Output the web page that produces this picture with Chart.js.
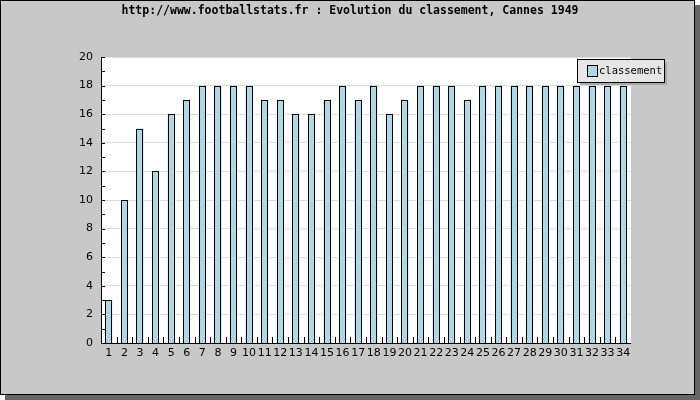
<!DOCTYPE html>
<html>
<head>
<meta charset="utf-8">
<script src="https://cdn.jsdelivr.net/npm/chart.js@4/dist/chart.umd.min.js"></script>
<style>
html,body{margin:0;padding:0;background:#fff;}
#wrap{width:700px;height:400px;position:relative;}
</style>
</head>
<body>
<div id="wrap"><canvas id="c" width="700" height="400"></canvas></div>
<script>
const titleText = "http://www.footballstats.fr : Evolution du classement, Cannes 1949";
const seriesName = "classement";
const categories = ["1","2","3","4","5","6","7","8","9","10","11","12","13","14","15","16","17","18","19","20","21","22","23","24","25","26","27","28","29","30","31","32","33","34"];
const classement = [3,10,15,12,16,17,18,18,18,18,17,17,16,16,17,18,17,18,16,17,18,18,18,17,18,18,18,18,18,18,18,18,18,18];
const yTicks = [0,2,4,6,8,10,12,14,16,18,20];

const framePlugin = {
  id: 'frame',
  beforeDraw(chart) {
    const ctx = chart.ctx;
    ctx.save();
    ctx.fillStyle = '#666666';
    ctx.fillRect(695, 5, 5, 395);
    ctx.fillRect(5, 395, 695, 5);
    ctx.fillStyle = '#c8c8c8';
    ctx.fillRect(0, 0, 695, 395);
    ctx.strokeStyle = '#000';
    ctx.lineWidth = 1;
    ctx.strokeRect(0.5, 0.5, 694, 394);
    const a = chart.chartArea;
    ctx.fillStyle = '#ffffff';
    ctx.fillRect(a.left, a.top, a.right - a.left, a.bottom - a.top);
    ctx.fillStyle = '#000';
    ctx.font = 'bold 11.5px "DejaVu Sans Mono"';
    ctx.textAlign = 'center';
    ctx.textBaseline = 'middle';
    ctx.fillText(titleText, 350, 11);
    ctx.restore();
  },
  afterDatasetsDraw(chart) {
    // crisp, pixel-aligned outlines for the bars, from the library's bar elements
    const ctx = chart.ctx;
    const meta = chart.getDatasetMeta(0);
    ctx.save();
    ctx.strokeStyle = '#000';
    ctx.lineWidth = 1;
    meta.data.forEach(bar => {
      const p = bar.getProps(['x', 'y', 'base', 'width'], true);
      const l = Math.round(p.x - p.width / 2);
      const w = Math.round(p.width) - 1;
      const t = Math.round(p.y);
      const b = Math.round(p.base);
      ctx.fillStyle = '#add8e6';
      ctx.fillRect(l, t, w, b - t);
      ctx.strokeRect(l + 0.5, t + 0.5, w, b - t);
    });
    ctx.restore();
  },
  afterDraw(chart) {
    const ctx = chart.ctx;
    const a = chart.chartArea;
    const ys = chart.scales.y, xs = chart.scales.x;
    ctx.save();
    ctx.strokeStyle = '#000';
    ctx.lineWidth = 1;
    for (let v = 0; v <= 20; v++) {
      const py = Math.round(ys.getPixelForValue(v)) + 0.5;
      ctx.beginPath();
      ctx.moveTo(a.left, py);
      ctx.lineTo(a.left + 4, py);
      ctx.stroke();
    }
    for (let i = 1; i < categories.length; i++) {
      const px = Math.round((xs.getPixelForValue(i - 1) + xs.getPixelForValue(i)) / 2) + 0.5;
      ctx.beginPath();
      ctx.moveTo(px, a.bottom);
      ctx.lineTo(px, a.bottom - 6);
      ctx.stroke();
    }
    ctx.beginPath();
    ctx.moveTo(a.left + 0.5, a.top);
    ctx.lineTo(a.left + 0.5, a.bottom + 0.5);
    ctx.lineTo(a.right, a.bottom + 0.5);
    ctx.stroke();
    const lx = 577, ly = 59, lw = 87, lh = 23;
    ctx.fillStyle = '#a8a8a8';
    ctx.fillRect(lx + 3, ly + 3, lw, lh);
    ctx.fillStyle = '#e6e6e6';
    ctx.fillRect(lx, ly, lw, lh);
    ctx.strokeStyle = '#000';
    ctx.strokeRect(lx + 0.5, ly + 0.5, lw, lh);
    const ds = chart.data.datasets[0];
    ctx.fillStyle = ds.backgroundColor;
    ctx.fillRect(587, 65, 10, 11);
    ctx.strokeRect(587.5, 65.5, 10, 11);
    ctx.fillStyle = '#000';
    ctx.font = '10.5px "DejaVu Sans Mono"';
    ctx.textAlign = 'left';
    ctx.textBaseline = 'middle';
    ctx.fillText(ds.label, 599, 71);
    ctx.restore();
  }
};

new Chart(document.getElementById('c'), {
  type: 'bar',
  data: {
    labels: categories,
    datasets: [{
      label: seriesName,
      data: classement,
      backgroundColor: '#add8e6',
      borderColor: '#000',
      borderWidth: 0,
      barPercentage: 0.45,
      categoryPercentage: 1.0
    }]
  },
  options: {
    responsive: false,
    animation: false,
    events: [],
    layout: { padding: { left: 0, right: 69, top: 57, bottom: 0 } },
    plugins: { legend: { display: false }, title: { display: false }, tooltip: { enabled: false } },
    scales: {
      x: {
        type: 'category',
        offset: true,
        grid: { display: false, drawTicks: false },
        border: { display: false },
        ticks: { color: '#000', font: { family: 'DejaVu Sans', size: 11 }, padding: 4, maxRotation: 0, autoSkip: false },
        afterFit(s) { s.height = 57; }
      },
      y: {
        min: 0, max: 20,
        afterBuildTicks(s) { s.ticks = yTicks.map(v => ({ value: v })); },
        grid: { color: '#dcdcdc', drawTicks: false },
        border: { display: false },
        ticks: { color: '#000', font: { family: 'DejaVu Sans', size: 11 }, padding: 8 },
        afterFit(s) { s.width = 101; }
      }
    }
  },
  plugins: [framePlugin]
});
</script>
</body>
</html>
